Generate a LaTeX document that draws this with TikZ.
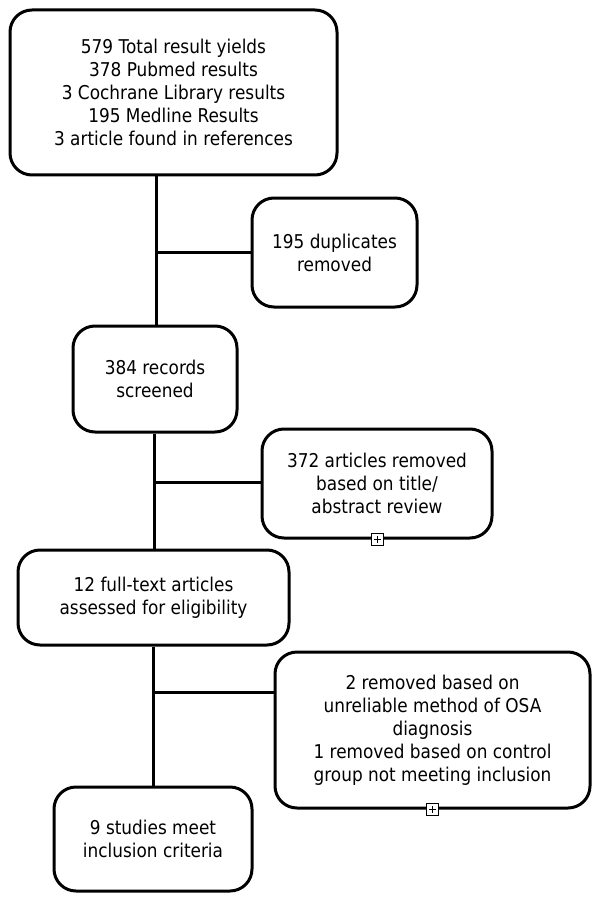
\documentclass[tikz,border=0pt]{standalone}
\usepackage{fontspec}
\setmainfont{DejaVu Sans}[FakeStretch=0.89]
\begin{document}
\begin{tikzpicture}[x=1pt,y=-1pt,
  box/.style={draw, line width=3pt, rounded corners=22pt, align=center, inner sep=0pt,
    font=\fontsize{19}{23}\selectfont},
  link/.style={line width=3pt},
  plusbox/.style={draw, fill=white, line width=0.9pt, minimum size=12pt, inner sep=0pt,
    path picture={\draw[line width=0.9pt]
      ([xshift=2.5pt]path picture bounding box.west) -- ([xshift=-2.5pt]path picture bounding box.east)
      ([yshift=-2.5pt]path picture bounding box.north) -- ([yshift=2.5pt]path picture bounding box.south);}}
]
\useasboundingbox[fill=white] (0,0) rectangle (600,904);
\node[box, minimum width=327pt, minimum height=165pt] (b1) at (173.5,92.5)
  {579 Total result yields\\378 Pubmed results\\3 Cochrane Library results\\195 Medline Results\\3 article found in references};
\node[box, minimum width=165pt, minimum height=109pt] (b2) at (334.5,252.5)
  {195 duplicates\\removed};
\node[box, minimum width=164pt, minimum height=106pt] (b3) at (155,379)
  {384 records\\screened};
\node[box, minimum width=230pt, minimum height=109pt] (b4) at (377,483.5)
  {372 articles removed\\based on title/\\abstract review};
\node[box, minimum width=271pt, minimum height=95pt] (b5) at (153.5,597.5)
  {12 full-text articles\\assessed for eligibility};
\node[box, minimum width=315pt, minimum height=156pt] (b6) at (432.5,730)
  {2 removed based on\\unreliable method of OSA\\diagnosis\\1 removed based on control\\group not meeting inclusion};
\node[box, minimum width=198pt, minimum height=104pt] (b7) at (153,839)
  {9 studies meet\\inclusion criteria};
\coordinate (j1) at (156,252);
\coordinate (j2) at (154,482);
\coordinate (j3) at (153,692);
\draw[link] (j1 |- b1.south) -- (j1 |- b3.north);
\draw[link] (j1) -- (j1 -| b2.west);
\draw[link] (j2 |- b3.south) -- (j2 |- b5.north);
\draw[link] (j2) -- (j2 -| b4.west);
\draw[link] (j3 |- b5.south) -- (j3 |- b7.north);
\draw[link] (j3) -- (j3 -| b6.west);
\node[plusbox] (p1) at (b4.south) {};
\node[plusbox] (p2) at (b6.south) {};
\end{tikzpicture}
\end{document}
